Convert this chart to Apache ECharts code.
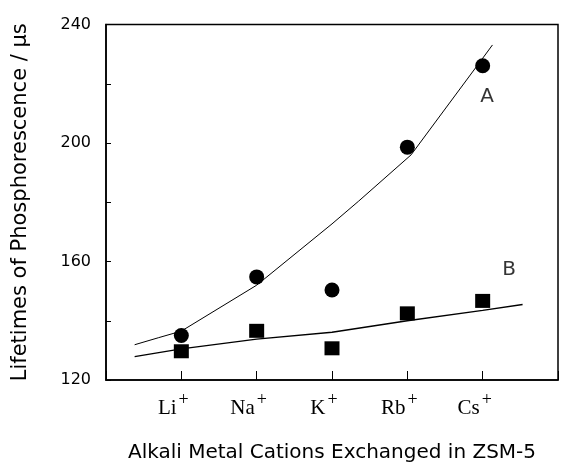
<!DOCTYPE html>
<html>
<head>
<meta charset="utf-8">
<script src="https://cdn.jsdelivr.net/npm/echarts@6/dist/echarts.min.js"></script>
<style>html,body{margin:0;padding:0;background:#fff;}#c{width:561px;height:468px;}</style>
</head>
<body>
<div id="c"></div>
<script>
// Categories (cations) at integer positions along the x axis
const categories = ['Li', 'Na', 'K', 'Rb', 'Cs'];
const categoryPos = [1, 2, 3, 4, 5];
// Measured lifetimes (µs)
const seriesA = [135.0, 154.8, 150.4, 198.6, 226.1];
const seriesB = [129.7, 136.6, 130.7, 142.5, 146.7];
// Fitted curves (x position, lifetime)
const fitAx = [0.38, 0.7, 1, 2, 3, 3.35, 4.05, 5, 5.13];
const fitAy = [131.9, 134.3, 136.5, 152.0, 172.7, 180.3, 196.0, 228.6, 233.1];
const fitBx = [0.38, 1, 2, 3, 4, 5, 5.53];
const fitBy = [127.9, 130.5, 133.8, 136.1, 140.0, 143.5, 145.5];
// Curve labels
const curveLabels = ['A', 'B'];
const curveLabelX = [5.06, 5.35];
const curveLabelY = [215.7, 157.2];
// Y ticks
const yMin = 120, yMax = 240, yTickStep = 20, yLabelStep = 40;

const zip = (xs, ys) => xs.map((x, i) => [x, ys[i]]);

const chart = echarts.init(document.getElementById('c'), null, {renderer: 'canvas'});
chart.setOption({
  animation: false,
  backgroundColor: '#fff',
  grid: {left: 106, right: 0, top: 24.5, bottom: 85, show: true, borderColor: '#000', borderWidth: 1.5, backgroundColor: 'transparent'},
  xAxis: {
    type: 'value', min: 0, max: 6, interval: 1,
    axisLine: {show: true, lineStyle: {color: '#000', width: 1.5}},
    axisTick: {show: true, inside: true, length: 9, lineStyle: {color: '#000', width: 1}},
    splitLine: {show: false},
    axisLabel: {
      margin: 11,
      padding: [0, 16, 0, 0],
      formatter: v => (v >= 1 && v <= 5) ? '{b|' + categories[categoryPos.indexOf(v)] + '}{s|+}' : '',
      rich: {
        b: {fontFamily: 'Liberation Serif', fontSize: 21, color: '#000', verticalAlign: 'bottom', lineHeight: 28},
        s: {fontFamily: 'Liberation Serif', fontSize: 18, color: '#000', verticalAlign: 'top', lineHeight: 28, padding: [0, 0, 0, 2]}
      }
    },
    name: 'Alkali Metal Cations Exchanged in ZSM-5',
    nameLocation: 'middle', nameGap: 63,
    nameTextStyle: {fontFamily: 'DejaVu Sans', fontSize: 20, color: '#000'}
  },
  yAxis: {
    type: 'value', min: yMin, max: yMax, interval: yTickStep,
    axisLine: {show: true, lineStyle: {color: '#000', width: 1.5}},
    axisTick: {show: true, inside: true, length: 5, lineStyle: {color: '#000', width: 1}},
    splitLine: {show: false},
    axisLabel: {
      margin: 15, fontFamily: 'DejaVu Sans', fontSize: 16, color: '#000',
      padding: [0, 0, 6, 0],
      formatter: v => (v % yLabelStep === 0) ? String(v) : ''
    },
    name: 'Lifetimes of Phosphorescence / µs',
    nameLocation: 'middle', nameGap: 75,
    nameTextStyle: {fontFamily: 'DejaVu Sans', fontSize: 21, color: '#000'}
  },
  series: [
    {type: 'line', data: zip(fitAx, fitAy), showSymbol: false, symbol: 'none',
     lineStyle: {color: '#000', width: 1}, z: 2},
    {type: 'line', data: zip(fitBx, fitBy), showSymbol: false, symbol: 'none',
     lineStyle: {color: '#000', width: 1.4}, z: 2},
    {type: 'scatter', data: zip(categoryPos, seriesA), symbol: 'circle', symbolSize: 15,
     itemStyle: {color: '#000', opacity: 1}, z: 3},
    {type: 'scatter', data: zip(categoryPos, seriesB), symbol: 'rect', symbolSize: [15, 14],
     itemStyle: {color: '#000', opacity: 1}, z: 3},
    {type: 'scatter', data: zip(curveLabelX, curveLabelY).map((p, i) => ({value: p, name: curveLabels[i]})),
     symbolSize: 2, itemStyle: {color: 'rgba(0,0,0,0)'}, silent: true,
     label: {show: true, position: 'inside', formatter: p => p.name,
             fontFamily: 'DejaVu Sans', fontSize: 20, color: '#000'}, z: 4}
  ]
});
</script>
</body>
</html>
